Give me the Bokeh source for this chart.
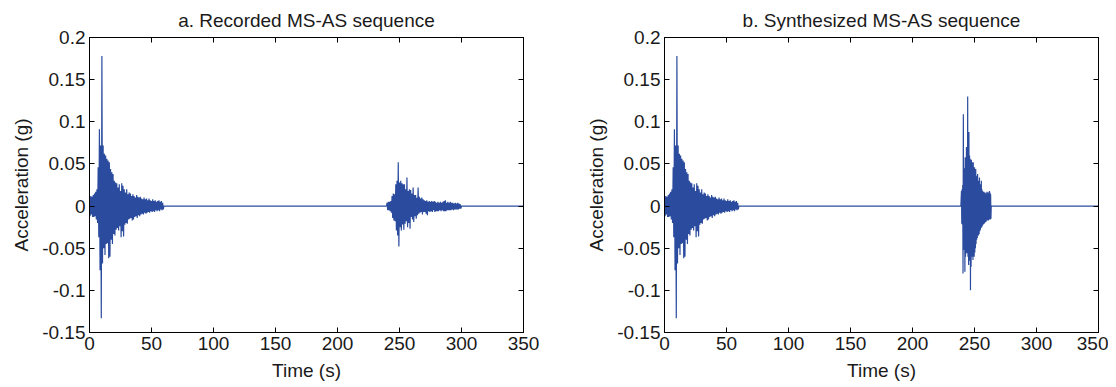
from bokeh.plotting import figure
from bokeh.layouts import row
from bokeh.models import LinearAxis, FixedTicker, CustomJSTickFormatter, Range1d
from bokeh.embed import file_html
from bokeh.resources import INLINE

# ---------------- data ----------------
# Main shock (identical in both panels): upper peaks at ms_t, lower peaks half a second later
ms_t = list(range(0, 60))
ms_hi = [0.010, 0.012, 0.011, 0.013, 0.015, 0.017, 0.020, 0.046, 0.091, 0.072,
         0.178, 0.072, 0.062, 0.060, 0.056, 0.054, 0.052, 0.044, 0.040, 0.038,
         0.030, 0.028, 0.027, 0.022, 0.026, 0.018, 0.027, 0.024, 0.020, 0.016,
         0.020, 0.014, 0.016, 0.015, 0.012, 0.014, 0.012, 0.010, 0.013, 0.011,
         0.010, 0.011, 0.009, 0.008, 0.010, 0.008, 0.009, 0.007, 0.009, 0.007,
         0.006, 0.008, 0.006, 0.007, 0.005, 0.006, 0.007, 0.005, 0.006, 0.004]
ms_lo = [-0.012, -0.010, -0.013, -0.013, -0.012, -0.016, -0.020, -0.037, -0.076, -0.133,
         -0.068, -0.050, -0.058, -0.045, -0.044, -0.062, -0.060, -0.040, -0.045, -0.033,
         -0.035, -0.028, -0.026, -0.029, -0.024, -0.037, -0.030, -0.036, -0.022, -0.020,
         -0.021, -0.016, -0.015, -0.014, -0.017, -0.016, -0.013, -0.012, -0.014, -0.011,
         -0.012, -0.010, -0.009, -0.010, -0.008, -0.009, -0.008, -0.007, -0.008, -0.006,
         -0.007, -0.006, -0.007, -0.005, -0.006, -0.005, -0.006, -0.004, -0.005, -0.004]

# Recorded aftershock (panel a)
ras_t = list(range(240, 300))
ras_hi = [0.004, 0.005, 0.005, 0.006, 0.012, 0.015, 0.014, 0.026, 0.030, 0.052,
          0.028, 0.030, 0.027, 0.026, 0.026, 0.020, 0.034, 0.018, 0.020, 0.019,
          0.015, 0.022, 0.013, 0.013, 0.010, 0.022, 0.011, 0.009, 0.010, 0.008,
          0.007, 0.006, 0.007, 0.005, 0.006, 0.005, 0.006, 0.005, 0.006, 0.005,
          0.004, 0.005, 0.004, 0.005, 0.004, 0.005, 0.006, 0.007, 0.004, 0.005,
          0.004, 0.005, 0.004, 0.004, 0.003, 0.004, 0.003, 0.004, 0.003, 0.002]
ras_lo = [-0.005, -0.005, -0.006, -0.008, -0.014, -0.017, -0.018, -0.029, -0.035, -0.048,
          -0.025, -0.029, -0.022, -0.028, -0.021, -0.018, -0.025, -0.020, -0.027, -0.013,
          -0.016, -0.019, -0.012, -0.015, -0.011, -0.009, -0.008, -0.007, -0.010, -0.007,
          -0.007, -0.009, -0.011, -0.006, -0.007, -0.006, -0.007, -0.005, -0.007, -0.006,
          -0.006, -0.006, -0.005, -0.006, -0.005, -0.006, -0.006, -0.006, -0.005, -0.005,
          -0.005, -0.005, -0.004, -0.005, -0.004, -0.004, -0.004, -0.004, -0.003, -0.003]

# Synthesized aftershock (panel b), peaks every 0.5 s
sas_t = [239.5, 240, 240.5, 241, 241.5, 242, 242.5, 243, 243.5, 244,
         244.5, 245, 245.5, 246, 246.5, 247, 247.5, 248, 248.5, 249,
         249.5, 250, 250.5, 251, 251.5, 252, 252.5, 253, 253.5, 254,
         254.5, 255, 255.5, 256, 256.5, 257, 257.5, 258, 258.5, 259,
         259.5, 260, 260.5, 261, 261.5, 262, 262.5, 263]
sas_hi = [0.018, 0.020, 0.025, 0.109, 0.040, 0.045, 0.058, 0.050, 0.070, 0.060,
          0.130, 0.065, 0.088, 0.060, 0.056, 0.050, 0.055, 0.052, 0.048, 0.052,
          0.045, 0.046, 0.040, 0.044, 0.036, 0.034, 0.038, 0.030, 0.028, 0.034,
          0.026, 0.025, 0.030, 0.020, 0.018, 0.016, 0.017, 0.015, 0.016, 0.014,
          0.015, 0.017, 0.014, 0.016, 0.015, 0.018, 0.016, 0.014]
sas_lo = [-0.021, -0.022, -0.080, -0.052, -0.050, -0.078, -0.060, -0.055, -0.056, -0.050,
          -0.060, -0.070, -0.065, -0.062, -0.100, -0.072, -0.060, -0.055, -0.064, -0.058,
          -0.060, -0.055, -0.050, -0.045, -0.040, -0.038, -0.033, -0.035, -0.033, -0.030,
          -0.028, -0.026, -0.025, -0.024, -0.022, -0.022, -0.021, -0.020, -0.018, -0.019,
          -0.017, -0.017, -0.016, -0.017, -0.016, -0.015, -0.016, -0.015]

x_ticks = [0, 50, 100, 150, 200, 250, 300, 350]
y_ticks = [-0.15, -0.1, -0.05, 0, 0.05, 0.1, 0.15, 0.2]
titles = ["a. Recorded MS-AS sequence", "b. Synthesized MS-AS sequence"]

LINE = "#2B4C9E"
FONT = "Liberation Sans"
TXT = "#1a1a1a"


def zigzag(ts, hi, lo, half):
    xs, ys = [], []
    for t, h, l in zip(ts, hi, lo):
        xs += [t, t + half]
        ys += [h, l]
    return xs, ys


def build(as_t, as_hi, as_lo, as_half, as_end):
    mx, my = zigzag(ms_t, ms_hi, ms_lo, 0.5)
    ax, ay = zigzag(as_t, as_hi, as_lo, as_half)
    xs = mx + [60, as_t[0] - 0.5] + ax + [as_end, 350]
    ys = my + [0, 0] + ay + [0, 0]
    return xs, ys


def make_fig(title, xs, ys, width, bl, br):
    p = figure(width=width, height=383, output_backend="svg", toolbar_location=None,
               x_range=Range1d(0, 350), y_range=Range1d(-0.15, 0.2),
               min_border_left=bl, min_border_right=br, min_border_top=37,
               min_border_bottom=50, title=title)
    p.title.align = "center"
    p.title.text_font = FONT
    p.title.text_font_size = "19px"
    p.title.text_font_style = "normal"
    p.title.text_color = TXT
    p.title.standoff = 13
    p.grid.visible = False
    p.outline_line_color = "black"
    p.outline_line_width = 1
    p.line(xs, ys, line_color=LINE, line_width=1.2)

    p.xaxis.ticker = FixedTicker(ticks=x_ticks)
    p.yaxis.ticker = FixedTicker(ticks=y_ticks)
    p.yaxis.formatter = CustomJSTickFormatter(code="return String(Math.round(tick*100)/100);")
    p.xaxis.axis_label = "Time (s)"
    p.yaxis.axis_label = "Acceleration (g)"
    for ax in (p.xaxis[0], p.yaxis[0]):
        ax.major_tick_in = 5
        ax.major_tick_out = 0
        ax.minor_tick_line_color = None
        ax.axis_line_color = "black"
        ax.major_tick_line_color = "black"
        ax.major_label_text_font = FONT
        ax.major_label_text_font_size = "19px"
        ax.major_label_text_color = TXT
        ax.axis_label_text_font = FONT
        ax.axis_label_text_font_size = "19px"
        ax.axis_label_text_font_style = "normal"
        ax.axis_label_text_color = TXT
        ax.major_label_standoff = 4
    p.xaxis.axis_label_standoff = 7
    p.yaxis.axis_label_standoff = 7

    for side, tk in (("right", y_ticks), ("above", x_ticks)):
        a = LinearAxis(ticker=FixedTicker(ticks=tk),
                       formatter=CustomJSTickFormatter(code="return '';"))
        a.major_tick_in = 5
        a.major_tick_out = 0
        a.minor_tick_line_color = None
        a.major_label_standoff = 0
        a.axis_line_color = "black"
        p.add_layout(a, side)
    return p


xa, ya = build(ras_t, ras_hi, ras_lo, 0.5, 300)
xb, yb = build(sas_t, sas_hi, sas_lo, 0.25, 263.5)
p1 = make_fig(titles[0], xa, ya, 583, 89, 60)
p2 = make_fig(titles[1], xb, yb, 525, 81, 10)

layout = row(p1, p2)
open("out.html", "w").write(file_html(layout, INLINE))
